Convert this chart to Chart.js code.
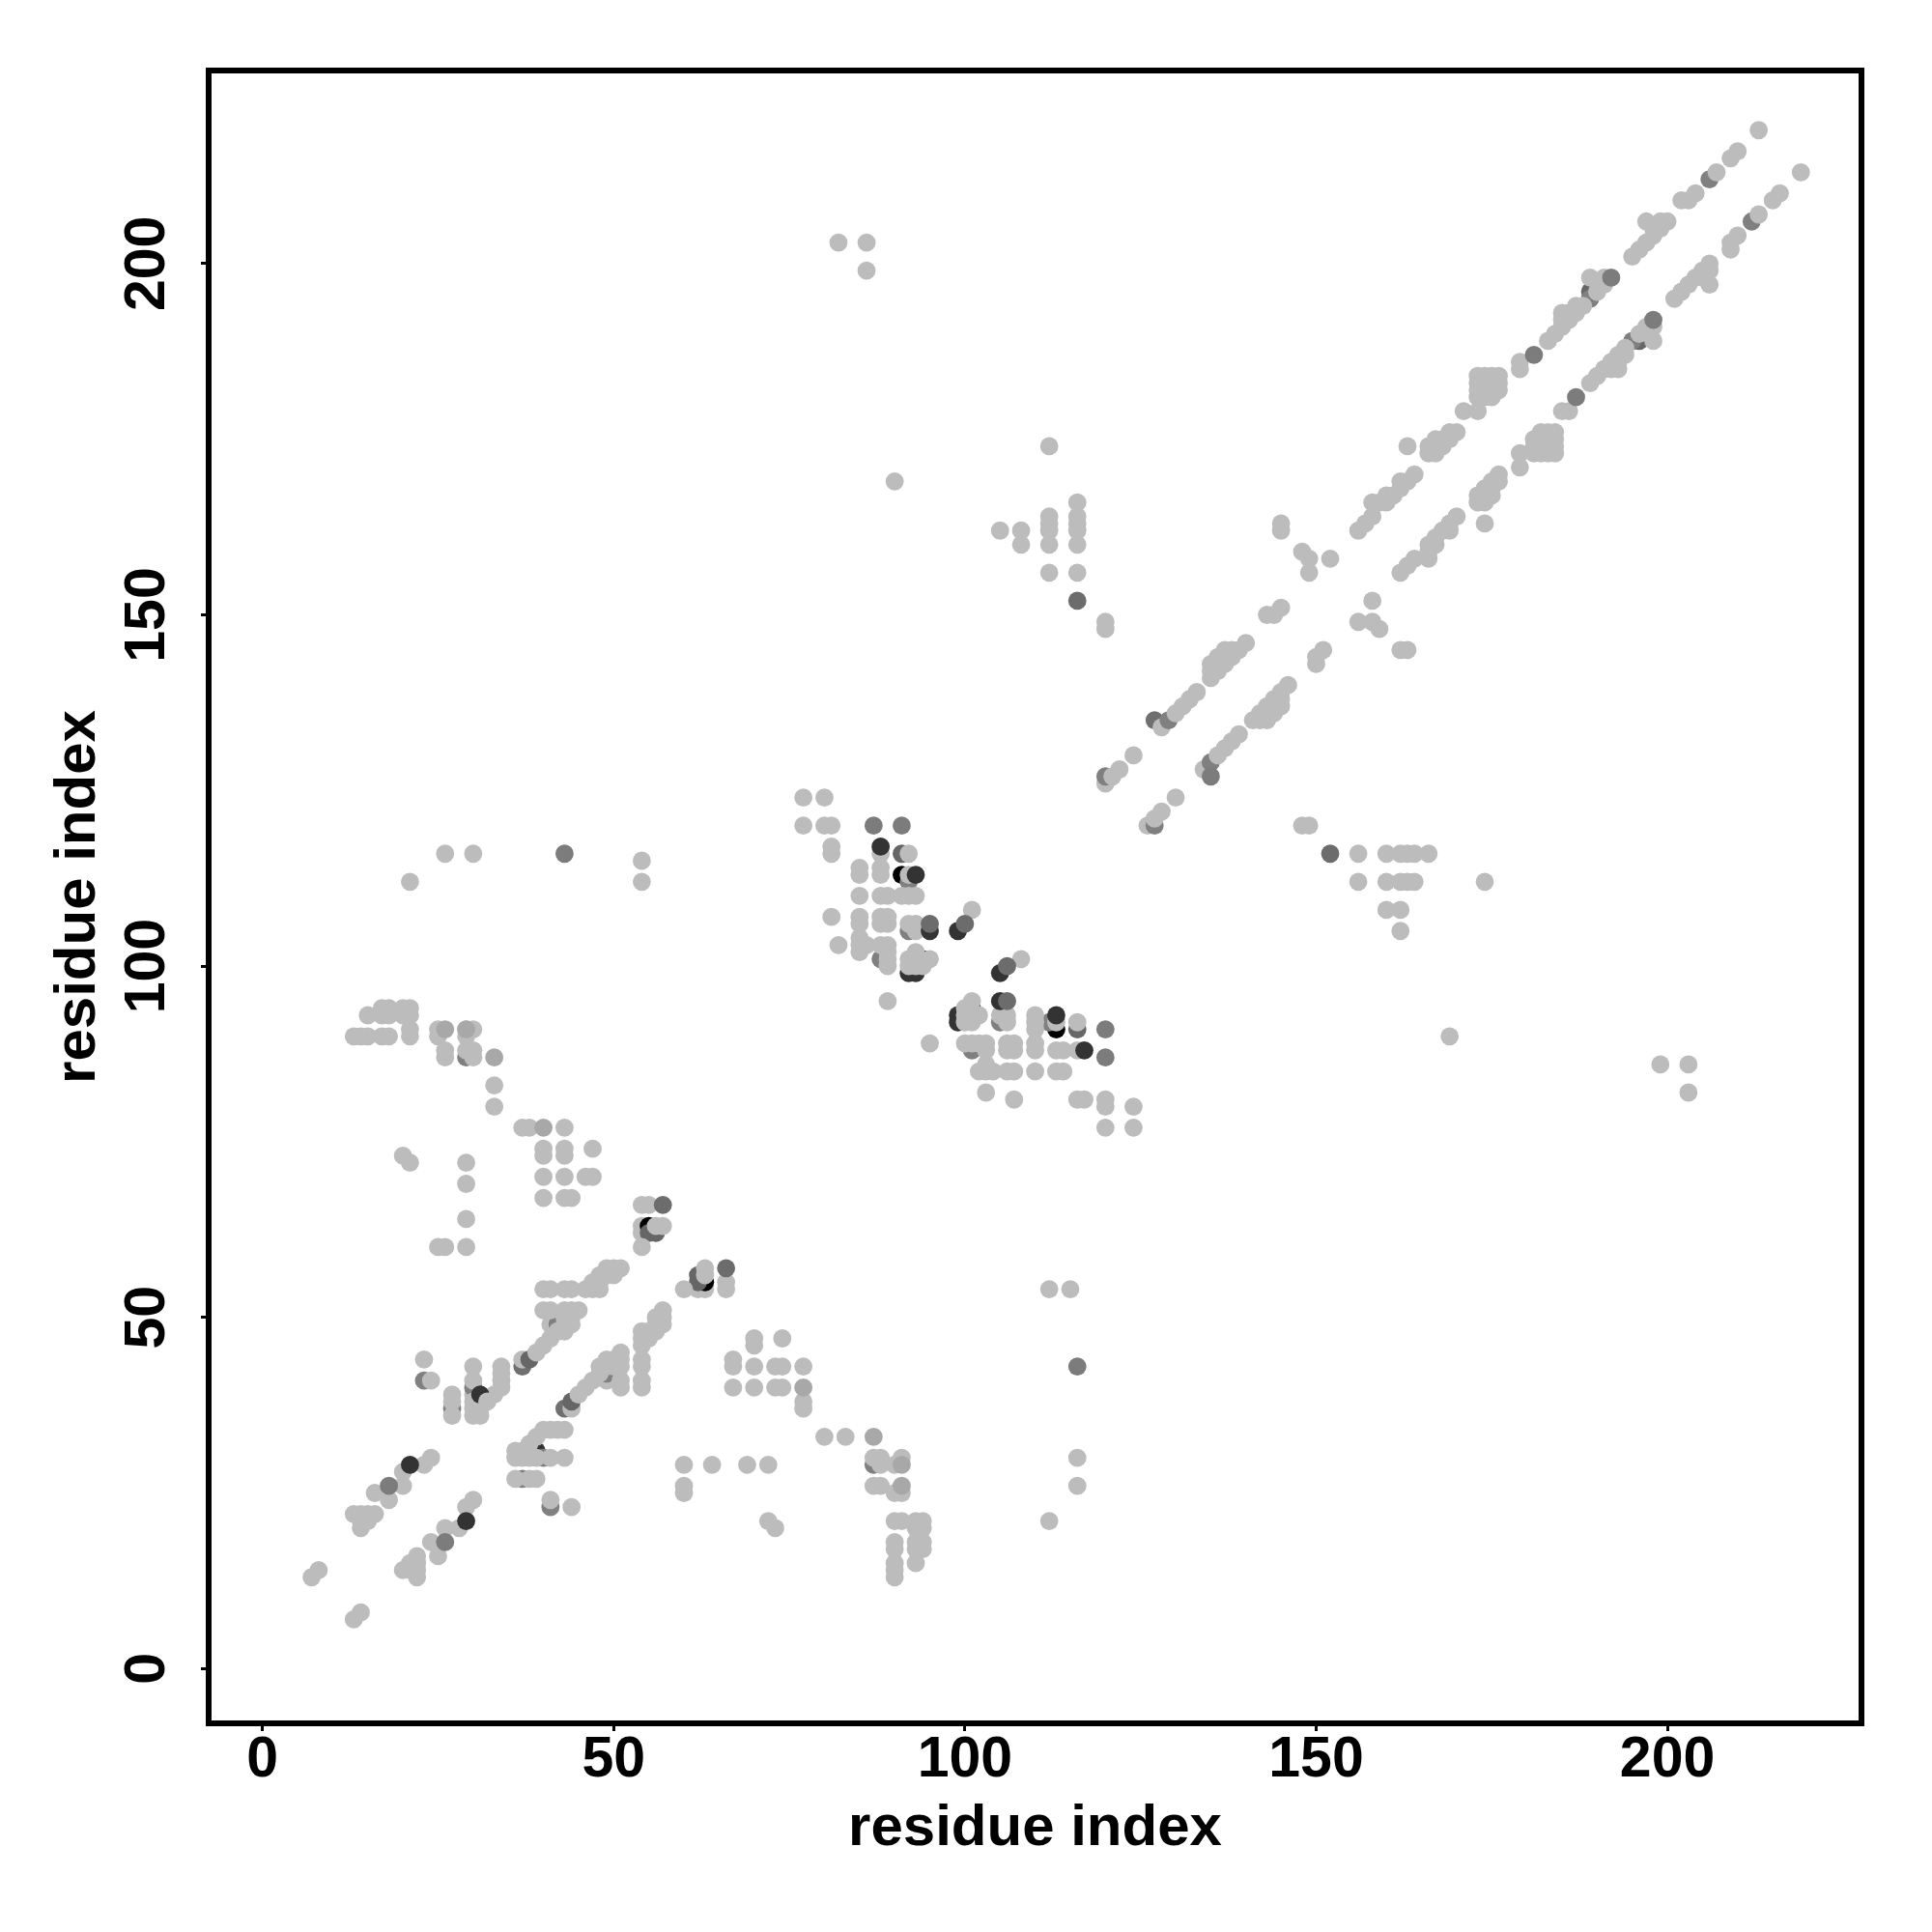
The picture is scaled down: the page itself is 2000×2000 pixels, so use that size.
<!DOCTYPE html>
<html>
<head>
<meta charset="utf-8">
<title>residue contact map</title>
<script src="https://cdn.jsdelivr.net/npm/chart.js@4"></script>
<style>
  html, body { margin: 0; padding: 0; background: #fff; }
  canvas { display: block; }
</style>
</head>
<body>
<canvas id="chart" width="2000" height="2000"></canvas>
<script>
var axisTitle = 'residue index';
var tickValues = [0, 50, 100, 150, 200];

// contacts as [x, y], grouped by shade and by what covers what in the picture
var baseDark = [[37,43],[43,37],[127,135]];
var bottomLight = [[37,44],[44,37],[41,49],[49,41],[54,62],[54,63],[62,54],[63,54],[128,134],[134,128],[126,120],[120,126],[38,31],[30,39]];
var blackUnder = [[91,113],[113,91],[55,63],[63,55]];
var darkUnder = [[92,99],[93,99],[99,92],[99,93],[94,101],[101,94],[39,31]];
var midDarkUnder = [[38,44],[44,38],[91,116],[116,91],[55,62],[56,62],[62,55],[62,56],[196,189],[189,196]];
var midUnder = [[41,23],[23,41],[42,49],[49,42],[27,37],[37,27],[30,40],[40,30],[92,112],[112,92],[92,105],[105,92],[88,101],[101,88],
  [120,127],[127,120],[129,135],[135,129],[195,189],[189,195],[206,212],[212,206],[29,87],[87,29]];

// light contacts above the diagonal
var lightUpperA = [[7,13],[8,14],[13,22],[14,20],[14,21],[14,22],[15,21],[15,22],[16,22],[16,25],[18,24],[20,26],[20,28],[23,29],[24,30],
  [23,44],[24,41],[27,36],[27,38],[27,39],[30,36],[30,37],[30,38],[30,41],[30,43],[31,36],[31,37],[31,38],[33,39],
  [34,40],[34,41],[34,42],[34,43],[39,45],[40,46],[41,47],[42,48],[43,48],[43,49],[44,49],[43,50],[44,50],
  [40,51],[41,51],[43,51],[44,51],[45,51],[40,54],[41,54],[43,54],[44,54],[46,54],[47,54],[48,54],[47,55],[48,55],[48,56],[49,56],[50,56],
  [49,57],[50,57],[51,57],[54,60],[54,66],[55,66],[56,63],[57,63]];
var lightUpperB = [[25,60],[26,60],[29,60],[29,64],[29,69],[29,72],[20,73],[21,72],[40,67],[40,70],[40,73],[40,74],[43,67],[44,67],[43,70],
  [43,73],[43,74],[46,70],[47,70],[47,74],[37,77],[38,77],[43,77],[33,80],[33,83],[26,87],[26,88],[29,88],[30,87],[30,88],
  [25,90],[29,90],[25,91],[29,91],[30,91],[13,90],[14,90],[15,90],[17,90],[18,90],[21,90],[21,91],[15,93],[17,93],[18,93],[20,93],[21,93],
  [17,94],[18,94],[20,94],[21,94],[21,112],[26,116],[30,116],[54,112],[54,115]];
var lightUpperC = [[77,120],[80,120],[81,120],[77,124],[80,124],[81,116],[81,117],[88,116],[92,116],[85,113],[85,114],[88,113],[88,114],[92,113],
  [85,110],[88,110],[89,110],[91,110],[92,110],[93,110],[81,107],[85,106],[85,107],[88,106],[88,107],[89,106],[89,107],[92,106],[93,106],[93,105],
  [101,108],[82,103],[85,102],[85,103],[85,104],[86,103],[88,103],[89,103],[89,102],[89,101],[89,100],[93,102],[92,101],[93,101],[95,101],
  [92,100],[93,100],[94,100],[89,95],[105,162],[108,160],[108,162],[112,156],[112,160],[112,162],[112,163],[112,164],[112,174],
  [116,156],[116,160],[116,162],[116,163],[116,164],[116,166],[120,148],[120,149],[90,169],[82,203],[86,199],[86,203]];
var lightUpperD = [[121,127],[122,128],[124,130],[130,136],[131,137],[132,138],[133,139],[135,141],[135,142],[135,143],
  [136,142],[136,143],[136,144],[137,143],[137,144],[138,144],[137,145],[138,145],[139,145],[140,146],[143,150],[144,150],[145,151],
  [145,162],[145,163],[148,159],[149,156],[149,158],[152,158],[156,162],[157,163],[158,164],[158,166],[159,166],[160,166],[160,167],[161,167],
  [162,168],[162,169],[163,169],[164,170],[163,174],[166,173],[166,174],[167,173],[167,174],[168,174],[167,175],[168,175],[169,175],[169,176],[170,176],
  [171,179],[173,179],[173,181],[174,181],[175,181],[173,182],[174,182],[175,182],[176,182],[173,183],[174,183],[175,183],[176,183],
  [173,184],[174,184],[175,184],[176,184],[179,185],[179,186],[183,189],[184,190],[185,191],[185,192],[186,192],[185,193],[186,193],[187,193],
  [187,194],[188,194],[190,196],[191,197],[191,198],[189,198],[195,201],[196,202],[197,203],[198,204],[198,205],[199,205],[197,206],
  [199,206],[200,206],[202,209],[203,209],[204,210],[207,213],[209,215],[210,216],[213,219]];

// light contacts below the diagonal
var lightLowerA = [[13,7],[14,8],[22,13],[20,14],[21,14],[22,14],[21,15],[22,15],[22,16],[25,16],[24,18],[26,20],[28,20],[29,23],[30,24],
  [44,23],[41,24],[36,27],[38,27],[39,27],[36,30],[37,30],[38,30],[39,30],[41,30],[43,30],[36,31],[37,31],[38,32],[39,33],
  [40,34],[41,34],[42,34],[43,34],[45,39],[46,40],[47,41],[48,42],[48,43],[49,43],[49,44],[50,43],[50,44],
  [51,40],[51,41],[51,43],[51,44],[51,45],[54,40],[54,41],[54,43],[54,44],[54,46],[54,47],[54,48],[55,47],[55,48],[56,48],[56,49],[56,50],
  [57,49],[57,50],[57,51],[60,54],[66,54],[66,55],[63,56],[63,57]];
var lightLowerB = [[60,25],[60,26],[60,29],[64,29],[69,29],[72,29],[73,20],[72,21],[67,40],[70,40],[73,40],[74,40],[67,43],[67,44],[70,43],
  [73,43],[74,43],[70,46],[70,47],[74,47],[77,37],[77,38],[77,43],[80,33],[83,33],[87,26],[88,26],[88,29],[87,30],[88,30],
  [90,25],[90,29],[91,25],[91,30],[90,13],[90,14],[90,15],[90,17],[90,18],[90,21],[91,21],[93,15],[93,17],[93,18],[93,20],[93,21],
  [94,17],[94,18],[94,20],[94,21],[112,21],[116,26],[116,30],[112,54],[115,54]];
var lightLowerC = [[120,77],[120,80],[120,81],[124,77],[124,80],[116,81],[117,81],[116,88],[116,92],[113,85],[114,85],[113,88],[114,88],[113,92],
  [110,85],[110,88],[110,89],[110,91],[110,92],[110,93],[107,81],[106,85],[107,85],[106,88],[107,88],[106,89],[107,89],[106,92],[106,93],[105,93],
  [108,101],[103,82],[102,85],[103,85],[104,85],[103,86],[103,88],[103,89],[102,89],[101,89],[100,89],[102,93],[101,92],[101,93],[101,95],
  [100,92],[100,93],[100,94],[95,89],[162,105],[160,108],[162,108],[156,112],[160,112],[162,112],[163,112],[164,112],[174,112],
  [156,116],[160,116],[162,116],[163,116],[164,116],[166,116],[148,120],[149,120],[169,90],[203,82],[199,86],[203,86]];
var lightLowerD = [[127,121],[128,122],[130,124],[136,130],[137,131],[138,132],[139,133],[141,135],[142,135],[143,135],
  [142,136],[143,136],[144,136],[143,137],[144,137],[144,138],[145,137],[145,138],[145,139],[146,140],[150,143],[150,144],[151,145],
  [162,145],[163,145],[159,148],[156,149],[158,149],[158,152],[162,156],[163,157],[164,158],[166,158],[166,159],[166,160],[167,160],[167,161],
  [168,162],[169,162],[169,163],[170,164],[174,163],[173,166],[174,166],[173,167],[174,167],[174,168],[175,167],[175,168],[175,169],[176,169],[176,170],
  [179,171],[179,173],[181,173],[181,174],[181,175],[182,173],[182,174],[182,175],[182,176],[183,173],[183,174],[183,175],[183,176],
  [184,173],[184,174],[184,175],[184,176],[185,179],[186,179],[189,183],[190,184],[191,185],[192,185],[192,186],[193,185],[193,186],[193,187],
  [194,187],[194,188],[196,190],[197,191],[198,191],[198,189],[201,195],[202,196],[203,197],[204,198],[205,198],[205,199],[206,197],
  [206,199],[206,200],[209,202],[209,203],[210,204],[213,207],[215,209],[216,210],[219,213]];

var softPoints = [[33,87],[87,33],[40,77],[77,40],[26,91],[91,26],[29,91],[91,29]];
var midOver = [[18,26],[26,18],[181,187],[187,181],[192,198],[198,192],[43,116],[116,43],[87,120],[120,87],[91,120],[120,91],[135,127]];
var darkOver = [[21,29],[29,21],[31,39],[88,117],[117,88],[93,113],[113,93],[95,105],[105,95],[99,105],[105,99]];
var midDarkOver = [[95,106],[106,95],[100,106],[106,100],[116,152],[152,116],[57,66],[66,57]];
var lightTop = [[32,38]];

var lightPoints = [].concat(lightUpperA, lightUpperB, lightUpperC, lightUpperD, lightLowerA, lightLowerB, lightLowerC, lightLowerD);

function makeSet(points, color) {
  return {
    data: points.map(function(p) { return { x: p[0], y: p[1] }; }),
    pointBackgroundColor: color,
    pointBorderWidth: 0,
    pointRadius: 9.4,
    pointHoverRadius: 9.4,
    showLine: false
  };
}

var framePlugin = {
  id: 'frame',
  afterDraw: function(c) {
    var a = c.chartArea;
    c.ctx.save();
    c.ctx.strokeStyle = '#000';
    c.ctx.lineWidth = 6;
    c.ctx.strokeRect(a.left, a.top, a.right - a.left, a.bottom - a.top);
    c.ctx.restore();
  }
};

var tickFont = { family: '"Liberation Sans"', size: 59, weight: 'bold' };
var titleFont = { family: '"Liberation Sans"', size: 60, weight: 'bold' };

var config = {
  type: 'scatter',
  data: {
    // Chart.js paints the first dataset last, so the top layer goes first
    datasets: [
      makeSet(lightTop, '#bcbcbc'),
      makeSet(midDarkOver, '#6c6c6c'),
      makeSet(darkOver, '#333333'),
      makeSet(midOver, '#7c7c7c'),
      makeSet(softPoints, '#a8a8a8'),
      makeSet(lightPoints, '#bcbcbc'),
      makeSet(midUnder, '#808080'),
      makeSet(midDarkUnder, '#666666'),
      makeSet(darkUnder, '#333333'),
      makeSet(blackUnder, '#000000'),
      makeSet(bottomLight, '#bcbcbc'),
      makeSet(baseDark, '#707070')
    ]
  },
  plugins: [framePlugin],
  options: {
    responsive: false,
    animation: false,
    layout: { padding: { top: 73, right: 73, left: 0, bottom: 0 } },
    plugins: { legend: { display: false }, tooltip: { enabled: false } },
    scales: {
      x: {
        type: 'linear',
        min: -7.66,
        max: 227.63,
        afterBuildTicks: function(s) { s.ticks = tickValues.map(function(v) { return { value: v }; }); },
        afterFit: function(s) { s.height = 216; },
        grid: { drawOnChartArea: false, tickLength: 8, lineWidth: 3, color: '#000' },
        border: { display: false },
        ticks: { font: tickFont, color: '#000', padding: -5, maxRotation: 0, autoSkip: false },
        title: { display: true, text: axisTitle, font: titleFont, color: '#000', padding: { top: 0, bottom: 70.5 } }
      },
      y: {
        type: 'linear',
        min: -7.8,
        max: 227.49,
        afterBuildTicks: function(s) { s.ticks = tickValues.map(function(v) { return { value: v }; }); },
        afterFit: function(s) { s.width = 216; },
        grid: { drawOnChartArea: false, tickLength: 8, lineWidth: 3, color: '#000' },
        border: { display: false },
        ticks: { font: tickFont, color: '#000', padding: 5, minRotation: 90, maxRotation: 90, crossAlign: 'center', autoSkip: false },
        title: { display: true, text: axisTitle, font: titleFont, color: '#000', padding: { top: 45, bottom: 0 } }
      }
    }
  }
};

var myChart = new Chart(document.getElementById('chart').getContext('2d'), config);
</script>
</body>
</html>
